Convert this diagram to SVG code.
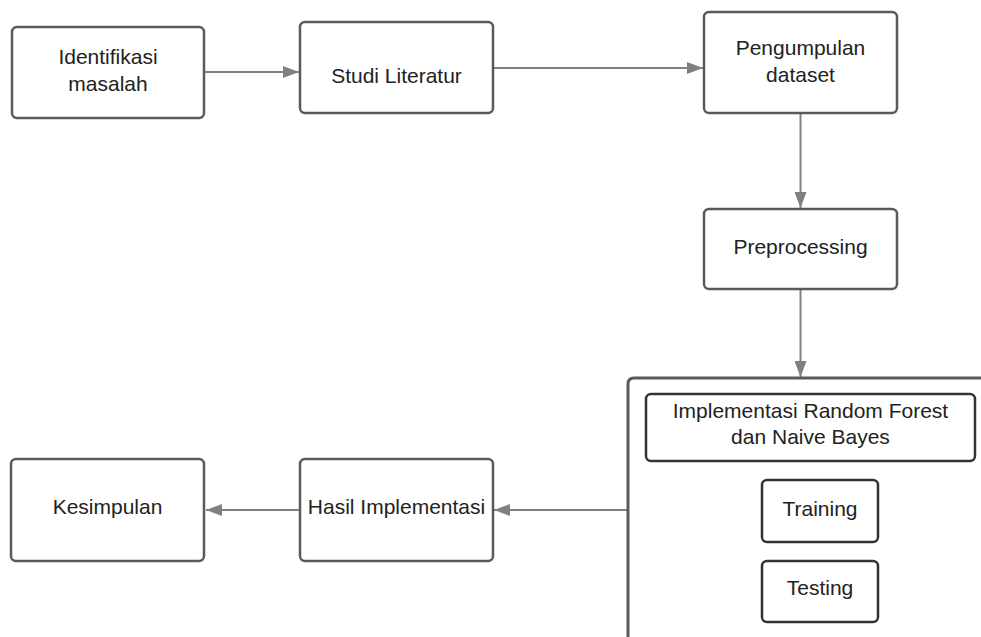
<svg xmlns="http://www.w3.org/2000/svg" width="981" height="637" viewBox="0 0 981 637">
<style>
.box{fill:#ffffff;stroke:#5a5a5a;stroke-width:2.5}
.inner{fill:#ffffff;stroke:#333333;stroke-width:2.5}
.cont{fill:none;stroke:#5a5a5a;stroke-width:3}
.t{font-family:"Liberation Sans",Arial,sans-serif;font-size:21px;fill:#222222;text-anchor:middle}
.c{fill:none;stroke:#808080;stroke-width:2}
</style>
<defs>
<marker id="ah" viewBox="0 0 16 12" refX="16" refY="6" markerWidth="16" markerHeight="12" markerUnits="userSpaceOnUse" orient="auto">
<path d="M0,0 L16,6 L0,12 z" fill="#808080"/>
</marker>
</defs>
<rect width="981" height="637" fill="#ffffff"/>
<g id="connectors">
<line class="c" x1="205" y1="72" x2="299" y2="72" marker-end="url(#ah)"/>
<line class="c" x1="494" y1="68" x2="703" y2="68" marker-end="url(#ah)"/>
<line class="c" x1="800.5" y1="114" x2="800.5" y2="208" marker-end="url(#ah)"/>
<line class="c" x1="800.5" y1="290" x2="800.5" y2="377" marker-end="url(#ah)"/>
<line class="c" x1="627" y1="510" x2="494" y2="510" marker-end="url(#ah)"/>
<line class="c" x1="299" y1="510" x2="206" y2="510" marker-end="url(#ah)"/>
</g>
<g id="identifikasi">
<rect class="box" x="12" y="27" width="192" height="91" rx="5"/>
<text class="t" x="108" y="64">Identifikasi</text>
<text class="t" x="108" y="91">masalah</text>
</g>
<g id="studi">
<rect class="box" x="300" y="22" width="193" height="91" rx="5"/>
<text class="t" x="396.5" y="83">Studi Literatur</text>
</g>
<g id="pengumpulan">
<rect class="box" x="704" y="12" width="193" height="101" rx="5"/>
<text class="t" x="800.5" y="55">Pengumpulan</text>
<text class="t" x="800.5" y="82">dataset</text>
</g>
<g id="preprocessing">
<rect class="box" x="704" y="209" width="193" height="80" rx="5"/>
<text class="t" x="800.5" y="254">Preprocessing</text>
</g>
<g id="implementasi">
<path class="cont" d="M628,640 L628,384 Q628,378 634,378 L984,378"/>
<rect class="inner" x="646" y="394" width="329" height="67" rx="5"/>
<text class="t" x="810.5" y="418">Implementasi Random Forest</text>
<text class="t" x="810.5" y="444">dan Naive Bayes</text>
</g>
<g id="training">
<rect class="inner" x="762" y="480" width="116" height="62" rx="5"/>
<text class="t" x="820" y="516">Training</text>
</g>
<g id="testing">
<rect class="inner" x="762" y="561" width="116" height="61" rx="5"/>
<text class="t" x="820" y="595">Testing</text>
</g>
<g id="hasil">
<rect class="box" x="300" y="459" width="193" height="102" rx="5"/>
<text class="t" x="396.5" y="514">Hasil Implementasi</text>
</g>
<g id="kesimpulan">
<rect class="box" x="11" y="459" width="193" height="102" rx="5"/>
<text class="t" x="107.5" y="514">Kesimpulan</text>
</g>
</svg>
